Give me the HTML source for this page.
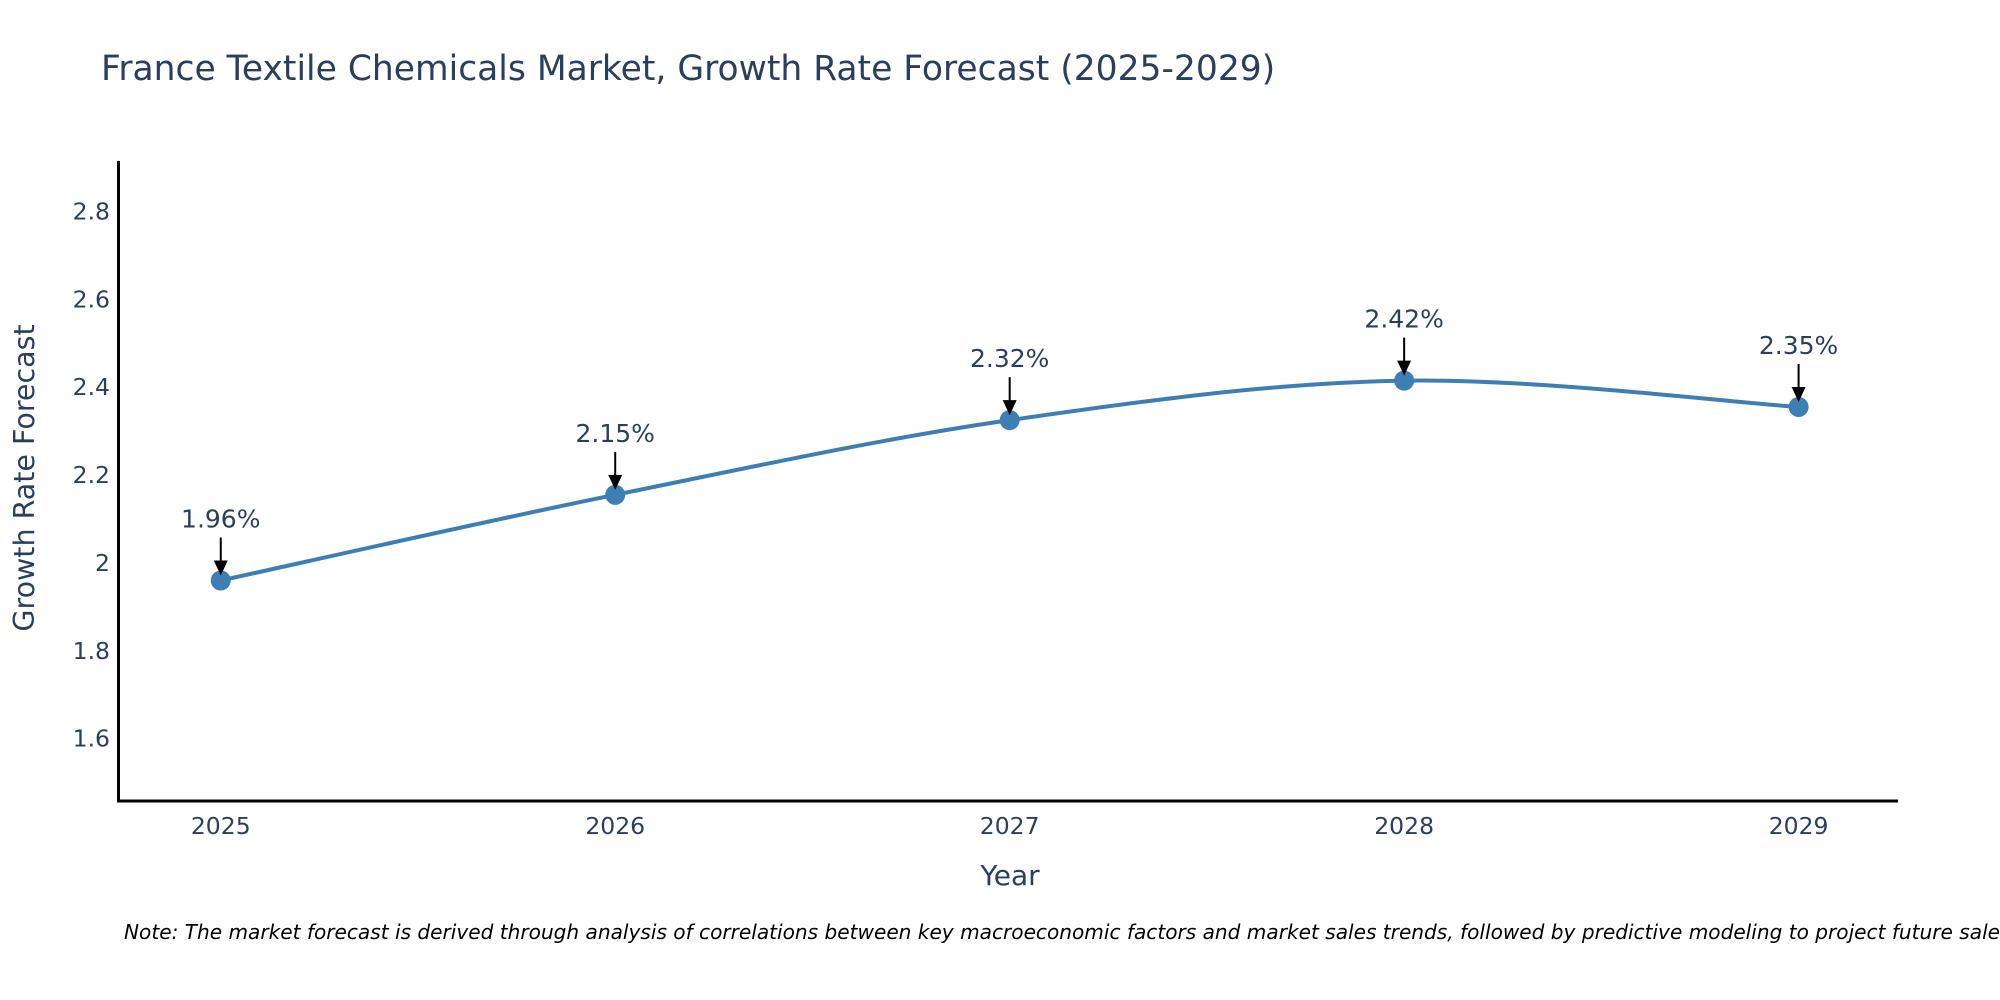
<!DOCTYPE html>
<html><head><meta charset="utf-8">
<style>
html,body{margin:0;padding:0;background:#fff;overflow:hidden;}
svg{display:block;font-family:"DejaVu Sans","Liberation Sans",sans-serif;}
</style></head>
<body>
<svg id="chart" width="2000" height="1000" viewBox="0 0 2000 1000">
  <text x="101" y="80" font-size="34.5" fill="#2a3f5f">France Textile Chemicals Market, Growth Rate Forecast (2025-2029)</text>
  <g id="yticks"></g>
  <g id="xticks"></g>
  <line x1="118.5" y1="161" x2="118.5" y2="802" stroke="#000" stroke-width="3"/>
  <line x1="117" y1="801" x2="1898" y2="801" stroke="#000" stroke-width="3"/>
  <path id="series" fill="none" stroke="#3d7fb5" stroke-width="4"/>
  <g id="marks"></g>
  <text x="34" y="478" font-size="28.5" fill="#2a3f5f" text-anchor="middle" transform="rotate(-90 34 478)">Growth Rate Forecast</text>
  <text x="1010" y="885" font-size="28" fill="#2a3f5f" text-anchor="middle">Year</text>
  <text x="124" y="939" font-size="20.1" font-style="italic" fill="#000">Note: The market forecast is derived through analysis of correlations between key macroeconomic factors and market sales trends, followed by predictive modeling to project future sales.</text>
</svg>
<script>
const years = [2025, 2026, 2027, 2028, 2029];
const growthRates = [1.96, 2.155, 2.325, 2.415, 2.355];
const pointLabels = ["1.96%", "2.15%", "2.32%", "2.42%", "2.35%"];
const yTickValues = [1.6, 1.8, 2, 2.2, 2.4, 2.6, 2.8];
const yTickLabels = ["1.6", "1.8", "2", "2.2", "2.4", "2.6", "2.8"];

const NS = "http://www.w3.org/2000/svg";
const X0 = 118.6, X1 = 1898, XMIN = 2024.741, XMAX = 2029.252;
const YTOP = 161, YBOT = 801, VMIN = 1.458, VMAX = 2.915;
function xs(v){ return X0 + (v - XMIN) / (XMAX - XMIN) * (X1 - X0); }
function ys(v){ return YBOT - (v - VMIN) / (VMAX - VMIN) * (YBOT - YTOP); }
function mk(tag, attrs){ const e = document.createElementNS(NS, tag); for (const k in attrs) e.setAttribute(k, attrs[k]); return e; }

const yg = document.getElementById('yticks');
yTickValues.forEach((v, i) => {
  const t = mk('text', {x: 110, y: ys(v) + 8, 'font-size': 23.5, fill: '#2a3f5f', 'text-anchor': 'end'});
  
  
  t.textContent = yTickLabels[i];
  yg.appendChild(t);
});
const xg = document.getElementById('xticks');
years.forEach(y => {
  const t = mk('text', {x: xs(y), y: 834, 'font-size': 23.5, fill: '#2a3f5f', 'text-anchor': 'middle'});
  
  
  t.textContent = String(y);
  xg.appendChild(t);
});

const pts = years.map((y, i) => [xs(y), ys(growthRates[i])]);
let d = 'M' + pts[0][0] + ',' + pts[0][1];
for (let i = 0; i < pts.length - 1; i++) {
  const p0 = pts[Math.max(0, i - 1)], p1 = pts[i], p2 = pts[i + 1], p3 = pts[Math.min(pts.length - 1, i + 2)];
  const c1 = [p1[0] + (p2[0] - p0[0]) / 6, p1[1] + (p2[1] - p0[1]) / 6];
  const c2 = [p2[0] - (p3[0] - p1[0]) / 6, p2[1] - (p3[1] - p1[1]) / 6];
  d += ' C' + c1.join(',') + ' ' + c2.join(',') + ' ' + p2.join(',');
}
document.getElementById('series').setAttribute('d', d);

const mg = document.getElementById('marks');
pts.forEach((p, i) => {
  const c = mk('circle', {cx: p[0], cy: p[1], r: 10, fill: '#3d7fb5'});
  
  
  mg.appendChild(c);
  const ln = mk('line', {x1: p[0], y1: p[1] - 43, x2: p[0], y2: p[1] - 18, stroke: '#000', 'stroke-width': 2});
  
  
  mg.appendChild(ln);
  const hd = mk('polygon', {points: (p[0]-7)+','+(p[1]-20)+' '+(p[0]+7)+','+(p[1]-20)+' '+p[0]+','+(p[1]-5), fill: '#000'});
  
  
  mg.appendChild(hd);
  const t = mk('text', {x: p[0], y: p[1] - 53, 'font-size': 25, fill: '#2a3f5f', 'text-anchor': 'middle'});
  
  
  t.textContent = pointLabels[i];
  mg.appendChild(t);
});
</script>
</body></html>
